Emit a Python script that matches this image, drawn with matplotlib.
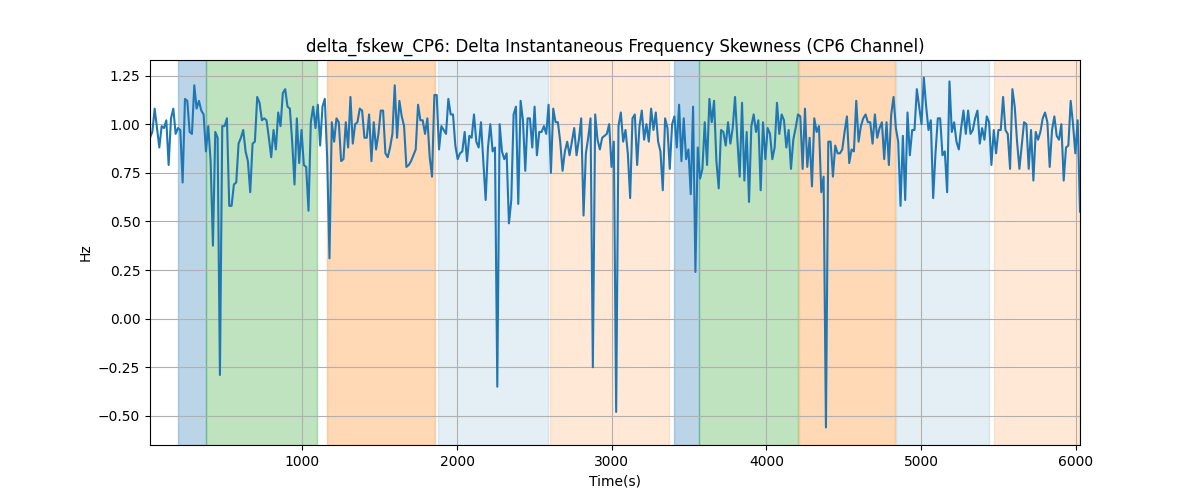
import numpy as np
import matplotlib
matplotlib.use("Agg")
import matplotlib.pyplot as plt

# delta_fskew values (Hz), ~15 s apart
fskew = [
    0.93, 0.96, 1.08, 0.98, 0.88, 0.99, 0.98, 1.02, 0.79, 1.03, 1.08, 0.95, 0.98, 0.97, 0.70, 1.13,
    1.12, 0.96, 0.95, 1.20, 1.08, 1.12, 1.07, 1.05, 0.86, 0.99, 0.81, 0.375, 0.96, 0.93, -0.29, 0.99,
    0.99, 1.03, 0.58, 0.58, 0.69, 0.70, 0.90, 0.93,
    0.97, 0.86, 0.81, 0.65, 0.90, 0.91, 1.14, 1.11, 1.02, 1.03, 1.02, 0.93, 0.83, 0.97, 0.87, 1.06,
    0.99, 1.16, 1.18, 1.09, 1.08, 0.91, 0.69, 1.03, 0.80, 0.97, 0.79, 0.78, 0.555, 1.01, 1.09, 0.98,
    1.10, 0.89, 1.09, 1.13, 0.83, 0.31, 1.01,
    0.91, 1.03, 1.01, 0.81, 0.82, 1.01, 0.88, 1.14, 0.90, 1.00, 1.01, 1.08, 1.07, 0.93, 0.93, 1.05,
    0.81, 1.01, 0.87, 0.95, 1.07, 1.07, 0.85, 0.83, 0.88, 0.95, 1.20, 0.93, 1.12, 1.04, 0.99, 0.78,
    0.79, 0.81, 0.84, 0.87, 1.10, 1.02,
    1.02, 0.95, 1.03, 0.83, 0.73, 1.15, 1.15, 0.87, 0.99, 0.97, 0.95, 1.13, 1.05, 1.05, 0.89, 0.82,
    0.85, 0.86, 0.96, 0.81, 0.94, 0.93, 1.05, 0.91, 0.88, 1.01, 0.81, 0.61, 0.88, 1.00, 0.86, 0.88,
    -0.35, 1.00, 0.86, 0.82, 0.85, 0.49,
    0.61, 1.05, 1.09, 0.59, 1.12, 1.02, 0.76, 1.03, 1.03, 0.88, 1.09, 0.84, 0.96, 0.96, 0.99, 0.95,
    1.10, 0.75, 1.08, 1.01, 1.01, 0.91, 0.76, 0.86, 0.91, 0.84, 0.91, 0.98, 0.84, 0.92, 1.03, 0.53,
    0.85, 0.93, 1.03, -0.25, 1.05, 0.92, 0.87,
    0.93, 0.94, 0.95, 1.00, 0.78, 0.91, -0.48, 0.99, 1.06, 0.91, 0.97, 0.85, 0.62, 1.03, 1.05, 0.79,
    0.99, 1.07, 0.92, 1.00, 0.91, 1.08, 0.97, 1.06, 0.91, 0.86, 0.66, 1.03, 0.98, 0.77, 1.00, 1.04,
    0.88, 1.10, 0.81, 1.03, 0.82, 0.87, 0.64,
    1.09, 0.24, 0.88, 0.72, 0.77, 1.01, 0.79, 1.13, 1.01, 1.12, 0.81, 0.67, 0.97, 0.96, 0.89, 1.01,
    0.90, 0.98, 1.14, 0.92, 0.73, 1.11, 0.71, 0.96, 0.60, 0.99, 1.05, 0.96, 1.02, 0.66, 1.01, 0.82,
    0.98, 0.95, 0.82, 0.88, 1.11, 0.95, 1.05,
    1.02, 0.88, 0.97, 0.77, 0.92, 0.98, 1.05, 1.04, 0.77, 1.08, 0.78, 0.93, 0.68, 1.03, 0.96, 0.99,
    0.65, 0.73, -0.56, 0.91, 0.91, 0.73, 0.89, 0.85, 0.85, 0.87, 0.96, 1.04, 0.80, 0.87, 0.86, 1.12,
    0.91, 0.99, 1.03, 1.05, 1.01, 1.01, 0.90,
    1.05, 0.93, 0.98, 1.01, 0.82, 1.01, 0.79, 1.05, 1.14, 0.98, 0.91, 0.58, 0.94, 0.61, 1.06, 0.84,
    0.97, 0.97, 1.18, 1.09, 1.00, 1.24, 1.09, 0.97, 1.02, 0.62, 0.85, 1.03, 1.03, 0.84, 0.86, 0.65,
    1.22, 0.96, 1.01, 0.91, 0.87, 0.98, 1.07,
    0.95, 1.07, 0.95, 0.97, 1.03, 1.07, 0.90, 0.98, 0.92, 1.04, 1.01, 0.79, 0.97, 0.85, 0.97, 0.97,
    1.14, 0.97, 0.95, 0.77, 1.18, 1.09, 0.91, 0.77, 0.89, 1.01, 1.00, 0.77, 0.97, 0.71, 0.96, 0.92,
    0.96, 1.03, 1.06, 1.01, 0.78, 0.97, 1.04, 0.94, 0.92, 1.00, 0.71, 0.88, 0.89, 1.12, 1.00, 0.85,
    1.02, 0.55,
]
t_start, t_end = 15, 6028

# phase windows (start, end, colour, alpha)
phases = [
    (196, 375, "tab:blue", 0.3),
    (375, 1093, "tab:green", 0.3),
    (1160, 1856, "tab:orange", 0.3),
    (1877, 2586, "tab:blue", 0.12),
    (2601, 3371, "tab:orange", 0.17),
    (3405, 3563, "tab:blue", 0.3),
    (3563, 4205, "tab:green", 0.3),
    (4211, 4830, "tab:orange", 0.3),
    (4838, 5437, "tab:blue", 0.12),
    (5472, 6022, "tab:orange", 0.17),
]

t = np.linspace(t_start, t_end, len(fskew))

fig, ax = plt.subplots(figsize=(12, 5), dpi=100)
for s, e, c, a in phases:
    ax.axvspan(s, e, color=c, alpha=a)
ax.plot(t, fskew, color="tab:blue")
ax.set_xlim(t[0], t[-1])
ax.grid(True)
ax.set_title("delta_fskew_CP6: Delta Instantaneous Frequency Skewness (CP6 Channel)")
ax.set_xlabel("Time(s)")
ax.set_ylabel("Hz")

plt.savefig("out.png")
